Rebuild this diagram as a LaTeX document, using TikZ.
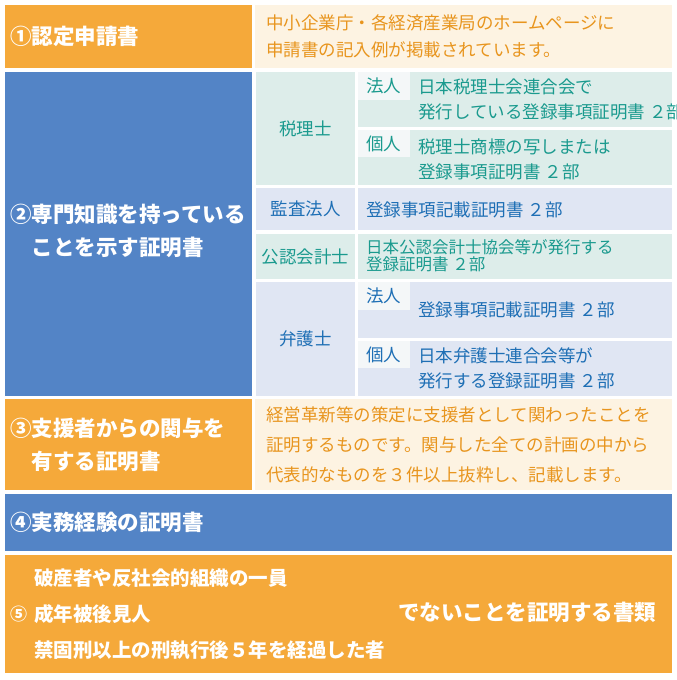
\documentclass[tikz,border=0pt]{standalone}
\usepackage{fontspec}
\setmainfont{Noto Sans CJK JP}
\usetikzlibrary{positioning,calc}
\definecolor{org}{HTML}{F5A93A}
\definecolor{lorg}{HTML}{FDF3E2}
\definecolor{blu}{HTML}{5384C6}
\definecolor{tbg}{HTML}{DDEDEA}
\definecolor{bbg}{HTML}{E0E6F3}
\definecolor{lbl}{HTML}{F4F7F8}
\definecolor{ttx}{HTML}{1A9A8E}
\definecolor{btx}{HTML}{1E6FB5}
\definecolor{otx}{HTML}{E8951E}
\tikzset{
 hd/.style={text=white,font=\bfseries\fontsize{21.5}{27}\selectfont,align=left,anchor=west,inner sep=0pt},
 tt/.style={text=ttx,font=\fontsize{17.5}{25}\selectfont,align=left,anchor=west,inner sep=0pt},
 bt/.style={text=btx,font=\fontsize{17.5}{25}\selectfont,align=left,anchor=west,inner sep=0pt},
 ot/.style={text=otx,font=\fontsize{17.5}{27}\selectfont,align=left,anchor=west,inner sep=0pt},
}
\newcommand\cell[6]{\path[fill=#6] (#2,#3) rectangle (#4,#5); \coordinate (#1) at ($(#2,#3)!0.5!(#4,#5)$);}
\begin{document}
\begin{tikzpicture}[x=1pt,y=-1pt]
\useasboundingbox[fill=white] (0,0) rectangle (677,680);
% row 1
\cell{a1}{5}{5}{252}{68}{org}
\cell{a2}{255}{5}{672}{68}{lorg}
\node[hd] (t1) at (10,36) {①認定申請書};
\node[ot] (t2) at (266,36) {中小企業庁・各経済産業局のホームページに\\申請書の記入例が掲載されています。};
% row 2
\cell{b1}{5}{72}{252}{396}{blu}
\node[hd,font=\bfseries\fontsize{21.5}{33}\selectfont] (t3) at (10,231) {②専門知識を持っている\\\hspace{1em}ことを示す証明書};
% zeirishi
\cell{z0}{256}{72}{355}{185}{tbg}
\cell{z1}{358}{72}{672}{127}{tbg}
\cell{z1l}{358}{72}{410}{100}{lbl}
\cell{z2}{358}{130}{672}{185}{tbg}
\cell{z2l}{358}{130}{410}{157}{lbl}
\node[tt,anchor=center] (tz) at (z0) {税理士};
\node[tt] (tz1l) at (366,86) {法人};
\node[tt] (tz1) at (418,99) {日本税理士会連合会で\\発行している登録事項証明書 ２部};
\node[tt] (tz2l) at (366,144) {個人};
\node[tt] (tz2) at (418,159) {税理士商標の写しまたは\\登録事項証明書 ２部};
% kansa
\cell{k0}{256}{188}{355}{230}{bbg}
\cell{k1}{358}{188}{672}{230}{bbg}
\node[bt,anchor=center] (tk) at (k0) {監査法人};
\node[bt] (tk1) at (366,210) {登録事項記載証明書 ２部};
% kaikei
\cell{c0}{256}{234}{355}{279}{tbg}
\cell{c1}{358}{234}{672}{279}{tbg}
\node[tt,anchor=center] (tc) at (c0) {公認会計士};
\node[tt,font=\fontsize{16.5}{17}\selectfont] (tc1) at (366,256) {日本公認会計士協会等が発行する\\登録証明書 ２部};
% bengoshi
\cell{g0}{256}{282}{355}{396}{bbg}
\cell{g1}{358}{282}{672}{338}{bbg}
\cell{g1l}{358}{282}{410}{310}{lbl}
\cell{g2}{358}{341}{672}{396}{bbg}
\cell{g2l}{358}{341}{410}{368}{lbl}
\node[bt,anchor=center] (tg) at (g0) {弁護士};
\node[bt] (tg1l) at (366,296) {法人};
\node[bt] (tg1) at (418,310) {登録事項記載証明書 ２部};
\node[bt] (tg2l) at (366,355) {個人};
\node[bt] (tg2) at (418,368) {日本弁護士連合会等が\\発行する登録証明書 ２部};
% row 3
\cell{d1}{5}{399}{252}{490}{org}
\cell{d2}{255}{399}{672}{490}{lorg}
\node[hd,font=\bfseries\fontsize{21.5}{33}\selectfont] (t4) at (10,445) {③支援者からの関与を\\\hspace{1em}有する証明書};
\node[ot,font=\fontsize{17.5}{30}\selectfont] (t5) at (266,445) {経営革新等の策定に支援者として関わったことを\\証明するものです。関与した全ての計画の中から\\代表的なものを３件以上抜粋し、記載します。};
% row 4
\cell{e1}{5}{494}{672}{551}{blu}
\node[hd] (t6) at (10,522) {④実務経験の証明書};
% row 5
\cell{f1}{5}{555}{672}{673}{org}
\node[text=white,font=\bfseries\fontsize{17}{17}\selectfont,anchor=west,inner sep=0pt] (t7) at (10,614) {⑤};
\node[text=white,font=\bfseries\fontsize{19.5}{36}\selectfont,align=left,anchor=west,inner sep=0pt] (t8) at (34,614) {破産者や反社会的組織の一員\\成年被後見人\\禁固刑以上の刑執行後５年を経過した者};
\node[text=white,font=\bfseries\fontsize{21.5}{19}\selectfont,anchor=west,inner sep=0pt] (t9) at (398,612) {でないことを証明する書類};
\end{tikzpicture}
\end{document}
